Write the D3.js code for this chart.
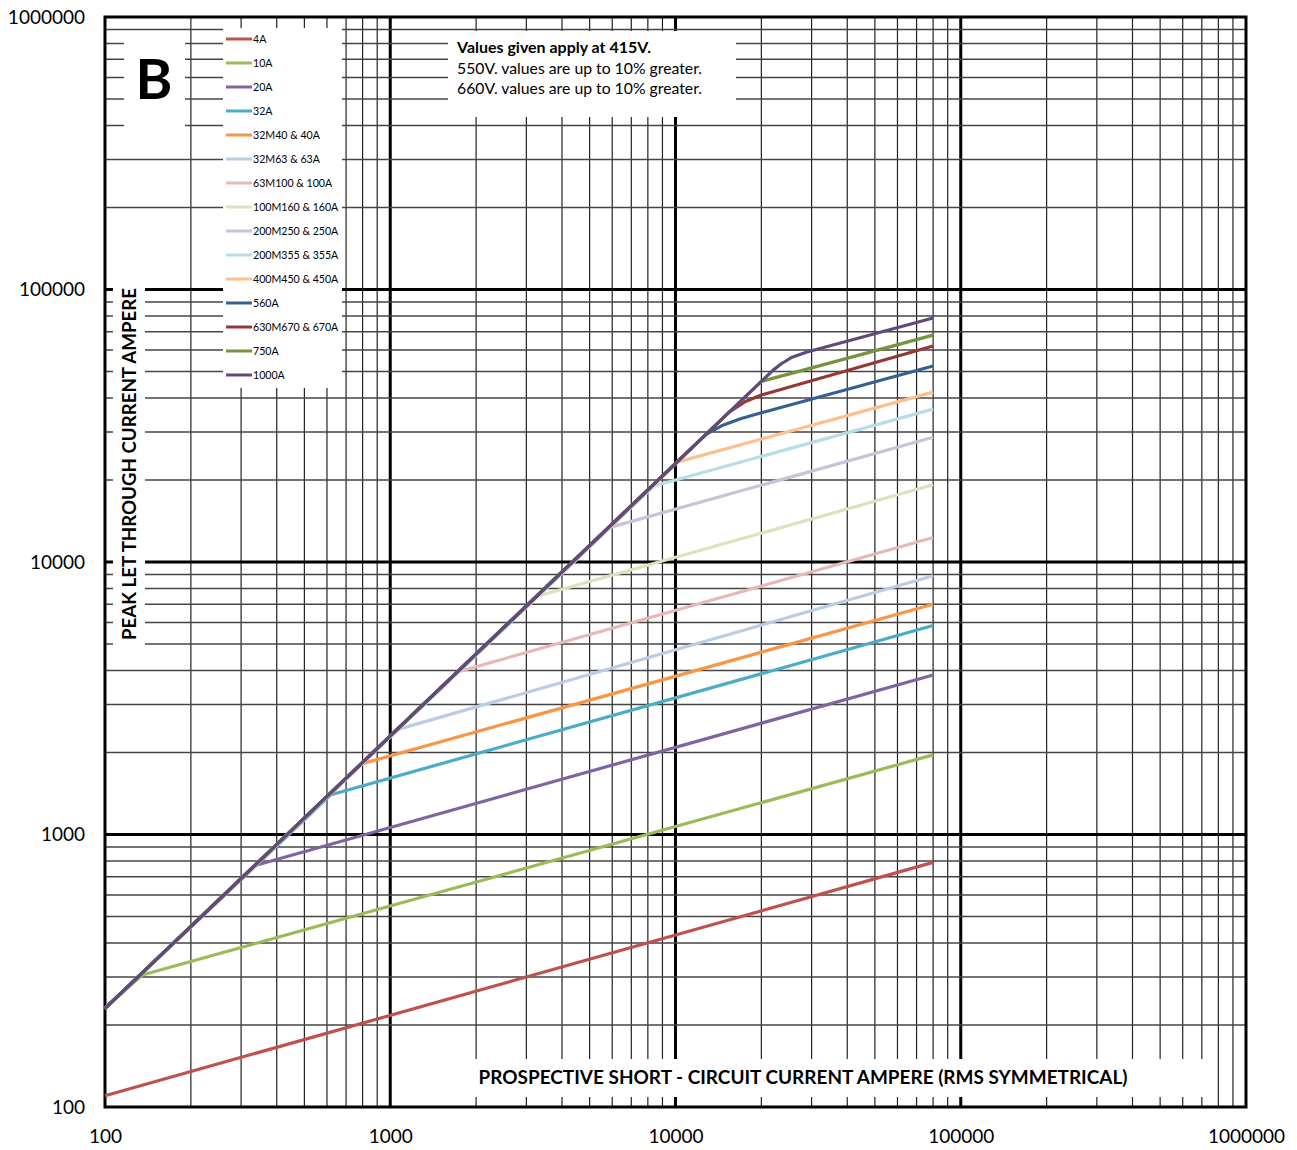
<!DOCTYPE html>
<html><head><meta charset="utf-8">
<script src="https://cdn.jsdelivr.net/npm/d3@7"></script>
<style>body{margin:0;background:#fff}svg{display:block}text{font-family:Lato,"Open Sans",sans-serif}</style>
</head><body>
<svg id="c" width="1297" height="1150"></svg>
<script>
// ---------- DATA ----------
const xTicks = [100, 1000, 10000, 100000, 1000000];
const yTicks = [100, 1000, 10000, 100000, 1000000];
const seriesNames = ["4A","10A","20A","32A","32M40 & 40A","32M63 & 63A","63M100 & 100A","100M160 & 160A",
  "200M250 & 250A","200M355 & 355A","400M450 & 450A","560A","630M670 & 670A","750A","1000A"];
const s4A    = [[100,110],[80000,790]];
const s10A   = [[100,230],[135,305],[80000,1960]];
const s20A   = [[100,230],[336,770],[80000,3850]];
const s32A   = [[100,230],[620,1400],[80000,5850]];
const s40A   = [[100,230],[800,1820],[80000,7000]];
const s63A   = [[100,230],[1050,2420],[80000,8900]];
const s100A  = [[100,230],[1720,3950],[80000,12300]];
const s160A  = [[100,230],[3300,7500],[80000,19200]];
const s250A  = [[100,230],[5900,13400],[80000,28700]];
const s355A  = [[100,230],[8400,19000],[80000,36400]];
const s450A  = [[100,230],[10200,23300],[80000,42000]];
const s560A  = [[100,230],[12800,29400],[14500,31600],[17000,33600],[20000,35300],[80000,52400]];
const s670A  = [[100,230],[15500,35650],[17500,38700],[20000,41000],[80000,62000]];
const s750A  = [[100,230],[20000,46000],[80000,68000]];
const s1000A = [[100,230],[22000,50600],[23500,53400],[25500,56300],[28900,59000],[80000,78600]];
const seriesValues = [s4A,s10A,s20A,s32A,s40A,s63A,s100A,s160A,s250A,s355A,s450A,s560A,s670A,s750A,s1000A];
const seriesColors = ["#C0504D","#9BBB59","#8064A2","#4BACC6","#F79646","#B9CDE5","#E6B9B8","#D7E4BD",
  "#CCC1DA","#B7DEE8","#FCC090","#376092","#953735","#77933C","#604A7B"];
const xTitle = "PROSPECTIVE SHORT - CIRCUIT CURRENT AMPERE (RMS SYMMETRICAL)";
const yTitle = "PEAK LET THROUGH CURRENT AMPERE";
const noteLines = ["Values given apply at 415V.","550V. values are up to 10% greater.","660V. values are up to 10% greater."];

// ---------- CHART ----------
const svg = d3.select("#c");
const L=105, R=1246, T=17, B=1107;
const x = d3.scaleLog().domain([100,1e6]).range([L,R]);
const y = d3.scaleLog().domain([100,1e6]).range([B,T]);
const isMajor = v => Math.abs(Math.log10(v) - Math.round(Math.log10(v))) < 1e-9;

const grid = svg.append("g");
x.ticks().forEach(v => {
  if (v<=100 || v>=1e6) return;
  grid.append("line").attr("x1",x(v)).attr("x2",x(v)).attr("y1",T).attr("y2",B)
    .attr("stroke", isMajor(v)?"#000":"#222").attr("stroke-width", isMajor(v)?3:1.2);
});
y.ticks().forEach(v => {
  if (v<=100 || v>=1e6) return;
  grid.append("line").attr("y1",y(v)).attr("y2",y(v)).attr("x1",L).attr("x2",R)
    .attr("stroke", isMajor(v)?"#000":"#444").attr("stroke-width", isMajor(v)?3:1.5);
});

// white boxes that hide the grid behind labels
const boxes = [[124,35,61,105],[223,28,119,360],[448,31,288,86],[113,281,32,369],[470,1059,740,38]];
svg.selectAll("rect.box").data(boxes).enter().append("rect").attr("class","box")
  .attr("x",d=>d[0]).attr("y",d=>d[1]).attr("width",d=>d[2]).attr("height",d=>d[3]).attr("fill","#fff");

// plot frame
svg.append("rect").attr("x",L).attr("y",T).attr("width",R-L).attr("height",B-T)
  .attr("fill","none").attr("stroke","#000").attr("stroke-width",3);

// series
const line = d3.line().x(d=>x(d[0])).y(d=>y(d[1])).curve(d3.curveLinear);
seriesValues.forEach((s,i) => {
  svg.append("path").attr("d",line(s)).attr("fill","none").attr("stroke",seriesColors[i])
    .attr("stroke-width",3.2).attr("stroke-linejoin","round").attr("stroke-linecap","butt");
});

// axes
const fmt = d3.format("d");
const ax = svg.append("g").attr("transform",`translate(0,${B})`)
  .call(d3.axisBottom(x).tickValues(xTicks).tickFormat(fmt).tickSize(0).tickPadding(23));
const ay = svg.append("g").attr("transform",`translate(${L},0)`)
  .call(d3.axisLeft(y).tickValues(yTicks).tickFormat(fmt).tickSize(0).tickPadding(20));
[ax,ay].forEach(a => { a.select(".domain").remove();
  a.selectAll("text").attr("font-family","Lato, sans-serif").attr("font-size",19).attr("fill","#000"); });

// axis titles
svg.append("text").attr("x",803).attr("y",1078).attr("dy","0.35em").attr("text-anchor","middle")
  .attr("font-weight","bold").attr("font-size",18).attr("textLength",649).attr("lengthAdjust","spacingAndGlyphs").text(xTitle);
svg.append("text").attr("transform","translate(130,464) rotate(-90)").attr("dy","0.35em").attr("text-anchor","middle")
  .attr("font-weight","bold").attr("font-size",18).attr("textLength",352).attr("lengthAdjust","spacingAndGlyphs").text(yTitle);

// big B
svg.append("text").attr("x",154).attr("y",99).attr("text-anchor","middle").attr("font-weight","bold")
  .attr("font-size",56).text("B");

// note
const noteW = [194,245,245];
noteLines.forEach((t,i) => {
  svg.append("text").attr("x",457).attr("y",[48,69,89][i]).attr("dy","0.35em").attr("font-size",15)
    .attr("font-weight", i===0?"bold":"normal").attr("textLength",noteW[i]).attr("lengthAdjust","spacingAndGlyphs").text(t);
});

// legend
const lg = svg.append("g");
seriesNames.forEach((n,i) => {
  const yy = 39 + 24*i;
  lg.append("line").attr("x1",226).attr("x2",252).attr("y1",yy).attr("y2",yy)
    .attr("stroke",seriesColors[i]).attr("stroke-width",3);
  lg.append("text").attr("x",253).attr("y",yy).attr("dy","0.35em").attr("font-size",10.6).text(n);
});
</script>
</body></html>
